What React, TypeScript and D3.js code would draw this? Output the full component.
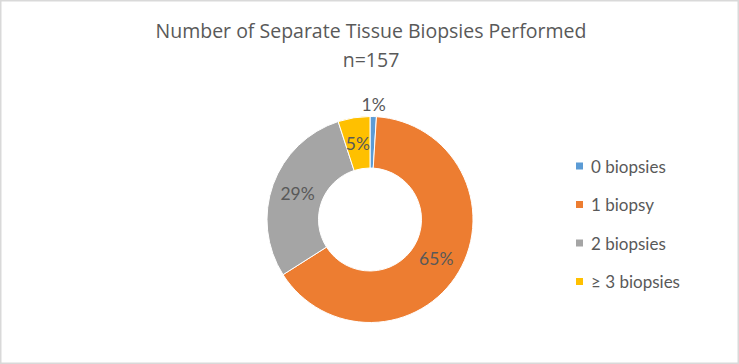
import React, { useEffect, useRef } from 'react';
import * as d3 from 'd3';

const categories = ['0 biopsies', '1 biopsy', '2 biopsies', '≥ 3 biopsies'];
const percents = [1, 65, 29, 5];
const colors = ['#5B9BD5', '#ED7D31', '#A5A5A5', '#FFC000'];
const titleLines = ['Number of Separate Tissue Biopsies Performed', 'n=157'];

const width = 739;
const height = 364;

const App = () => {
  const svgRef = useRef<SVGSVGElement>(null);

  useEffect(() => {
    const svg = d3.select(svgRef.current);
    svg.selectAll('*').remove();
    const font = 'Lato, "Open Sans", sans-serif';
    const textColor = '#595959';

    svg.append('rect')
      .attr('x', 0.75).attr('y', 0.75)
      .attr('width', width - 1.5).attr('height', height - 1.5)
      .attr('fill', 'white')
      .attr('stroke', '#D9D9D9')
      .attr('stroke-width', 1.5);

    // title
    svg.selectAll('text.title')
      .data(titleLines)
      .enter()
      .append('text')
      .attr('class', 'title')
      .attr('x', 371)
      .attr('y', (d, i) => 38 + i * 29)
      .attr('text-anchor', 'middle')
      .attr('font-family', '"Open Sans", sans-serif')
      .attr('font-size', 19.5)
      .attr('fill', textColor)
      .text(d => d);

    const cx = 370;
    const cy = 219.5;
    const outer = 103;
    const inner = 51.5;

    const pie = d3.pie<number>().sort(null).value(d => d);
    const arcs = pie(percents);
    const arc = d3.arc<d3.PieArcDatum<number>>().innerRadius(inner).outerRadius(outer);
    const labelArc = d3.arc<d3.PieArcDatum<number>>().innerRadius(77).outerRadius(77);
    const outsideArc = d3.arc<d3.PieArcDatum<number>>().innerRadius(115).outerRadius(115);

    const g = svg.append('g').attr('transform', `translate(${cx},${cy})`);

    g.selectAll('path.slice')
      .data(arcs)
      .enter()
      .append('path')
      .attr('class', 'slice')
      .attr('d', arc)
      .attr('fill', (d, i) => colors[i])
      .attr('stroke', 'white')
      .attr('stroke-width', 1);

    // data labels (small slices go outside)
    g.selectAll('text.lbl')
      .data(arcs)
      .enter()
      .append('text')
      .attr('class', 'lbl')
      .attr('transform', d => {
        const c = d.data < 3 ? outsideArc.centroid(d) : labelArc.centroid(d);
        return `translate(${c[0]},${c[1]})`;
      })
      .attr('text-anchor', 'middle')
      .attr('dominant-baseline', 'central')
      .attr('font-family', font)
      .attr('font-size', 17.5)
      .attr('fill', textColor)
      .text(d => `${d.data}%`);

    // legend
    const legendY = d3.scalePoint<string>()
      .domain(categories)
      .range([166, 281.5]);

    const legend = svg.selectAll('g.legend')
      .data(categories)
      .enter()
      .append('g')
      .attr('class', 'legend')
      .attr('transform', d => `translate(576,${legendY(d)})`);

    legend.append('rect')
      .attr('x', 0)
      .attr('y', -3.5)
      .attr('width', 7)
      .attr('height', 7)
      .attr('fill', (d, i) => colors[i]);

    legend.append('text')
      .attr('x', 15)
      .attr('y', 0)
      .attr('dominant-baseline', 'central')
      .attr('font-family', font)
      .attr('font-size', 17)
      .attr('fill', textColor)
      .text(d => d);
  }, []);

  return (
    <svg
      ref={svgRef}
      width={width}
      height={height}
      style={{ position: 'absolute', left: 0, top: 0 }}
    ></svg>
  );
};

export default App;
